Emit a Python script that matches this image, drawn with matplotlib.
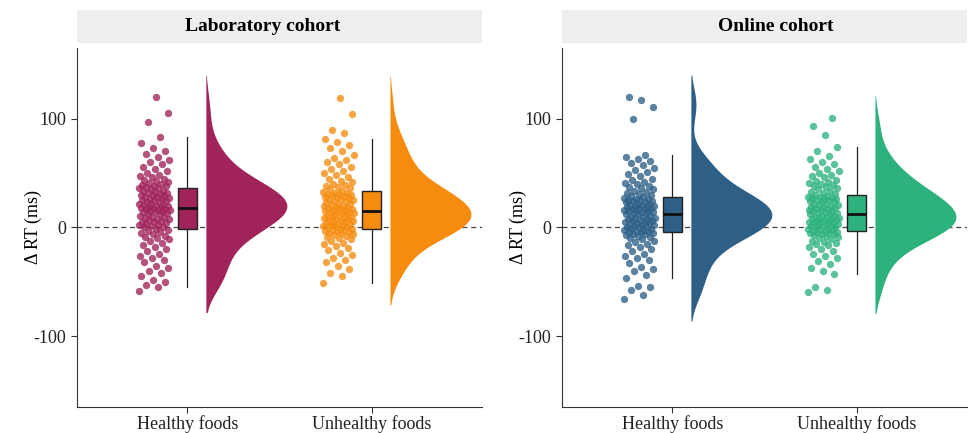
import matplotlib
matplotlib.use("Agg")
import matplotlib.pyplot as plt
import numpy as np

# delta RT values (ms)
lab_healthy = [-58, -55, -53, -50, -48, -45, -42, -40, -37, -35, -32, -30, -28, -26, -24,
               -22, -20, -18, -16, -14, -12, -11, -10, -9, -8, -6, -5, -4, -3, -2,
               -1, 0, 0, 1, 2, 2, 3, 4, 5, 5, 6, 7, 8, 8, 9, 10, 10, 11, 12, 12,
               13, 14, 14, 15, 15, 16, 16, 17, 17, 18,
               18, 19, 19, 20, 20, 21, 21, 22, 22, 23, 23, 24, 25, 25, 26, 26, 27, 28, 28, 29,
               30, 30, 31, 32, 32, 33, 34, 34, 35, 36,
               36, 37, 38, 38, 39, 40, 41, 42, 43, 44, 45, 46, 47, 48, 50, 52, 54, 56, 58, 60,
               62, 65, 68, 70, 73, 78, 83, 97, 105, 120]
lab_unhealthy = [-51, -45, -42, -38, -35, -32, -30, -28, -25, -23, -21, -19, -17, -15, -14,
                 -12, -11, -10, -9, -8, -7, -6, -5, -5, -4, -3, -3, -2, -2, -1,
                 -1, 0, 0, 1, 1, 2, 2, 3, 3, 4, 5, 5, 6, 6, 7, 8, 8, 9, 9, 10,
                 10, 11, 11, 12, 12, 13, 13, 14, 14, 15,
                 15, 16, 16, 17, 17, 18, 18, 19, 20, 20, 21, 22, 22, 23, 24, 24, 25, 26, 26, 27,
                 28, 28, 29, 30, 30, 31, 31, 32, 32, 33,
                 34, 35, 36, 37, 38, 39, 40, 42, 43, 45, 46, 48, 50, 52, 54, 56, 58, 60, 62, 64,
                 67, 70, 73, 76, 79, 81, 87, 90, 104, 119]
online_healthy = [-66, -62, -57, -55, -54, -46, -44, -40, -38, -36, -33, -30, -28, -26, -24,
                  -22, -20, -18, -16, -15, -13, -12, -11, -10, -9, -8, -7, -6, -6, -5,
                  -4, -4, -3, -3, -2, -2, -1, -1, 0, 0, 1, 1, 2, 2, 3, 4, 4, 5, 5, 6,
                  6, 7, 8, 8, 9, 9, 10, 10, 11, 12,
                  12, 13, 13, 14, 14, 15, 15, 16, 16, 17, 17, 18, 18, 19, 19, 20, 20, 21, 21, 22,
                  22, 23, 23, 24, 24, 25, 25, 26, 26, 27,
                  28, 29, 30, 31, 32, 33, 34, 35, 36, 37, 38, 40, 41, 42, 44, 45, 47, 49, 51, 53,
                  55, 57, 59, 61, 63, 65, 67, 100, 111, 117, 120]
online_unhealthy = [-59, -57, -55, -43, -40, -37, -34, -31, -28, -26, -24, -22, -20, -18, -16,
                    -15, -14, -13, -12, -11, -10, -9, -8, -7, -6, -6, -5, -5, -4, -4,
                    -3, -3, -2, -2, -1, -1, 0, 0, 1, 1, 2, 2, 3, 3, 4, 4, 5, 5, 6, 6,
                    7, 7, 8, 8, 9, 9, 10, 10, 11, 11,
                    12, 12, 13, 13, 14, 15, 15, 16, 16, 17, 18, 18, 19, 19, 20, 21, 21, 22, 22, 23,
                    24, 24, 25, 25, 26, 26, 27, 27, 28, 28,
                    29, 30, 31, 32, 33, 34, 35, 36, 37, 38, 39, 40, 41, 42, 43, 44, 46, 47, 48, 50,
                    52, 54, 56, 58, 60, 63, 66, 70, 74, 85, 93, 101]

categories = ["Healthy foods", "Unhealthy foods"]
panels = ["Laboratory cohort", "Online cohort"]
panel_data = [[lab_healthy, lab_unhealthy], [online_healthy, online_unhealthy]]
panel_colors = [["#A0235A", "#F58C0F"], ["#2D5F87", "#2DB27D"]]

plt.rcParams["font.family"] = ["Liberation Serif", "DejaVu Serif"]


def kde(values, grid, bw):
    v = np.asarray(values, dtype=float)[:, None]
    return np.exp(-0.5 * ((grid[None, :] - v) / bw) ** 2).sum(axis=0)


fig = plt.figure(figsize=(9.76, 4.33), dpi=100)
lefts = [77 / 976, 562 / 976]
title_x = [263 / 976, 776 / 976]
ax_w = 405 / 976
ax_b = 1 - 407 / 433
ax_h = 359 / 433

for p, title in enumerate(panels):
    ax = fig.add_axes([lefts[p], ax_b, ax_w, ax_h])
    sax = fig.add_axes([lefts[p], 1 - 43 / 433, ax_w, 33 / 433])
    sax.set_facecolor("#EDEEF0")
    sax.set_xticks([])
    sax.set_yticks([])
    for s in sax.spines.values():
        s.set_visible(False)
    fig.text(title_x[p], 1 - 26.5 / 433, title, ha="center", va="center", fontsize=14,
             fontweight="bold")

    ax.axhline(0, color="#444444", lw=0.9, ls=(0, (4, 3)), zorder=0)

    for i, vals in enumerate(panel_data[p]):
        pos = i + 1
        col = panel_colors[p][i]
        vals = np.asarray(vals, dtype=float)

        # half density (cloud)
        lo, hi = vals.min() - 20, vals.max() + 20
        grid = np.linspace(lo, hi, 400)
        dens = kde(vals, grid, 13)
        dens = dens / dens.max() * 0.44
        ax.fill_betweenx(grid, pos + 0.1, pos + 0.1 + dens, color=col, lw=0, zorder=2)

        # jittered points (rain)
        n = len(vals)
        offs = ((np.arange(n) * 0.6180339887) % 1.0 - 0.5) * 0.17
        ax.scatter(pos - 0.18 + offs, vals, s=28, color=col, alpha=0.78, lw=0, zorder=3)

        # boxplot
        ax.boxplot([vals], positions=[pos], widths=0.1, patch_artist=True, showfliers=False,
                   boxprops=dict(facecolor=col, edgecolor="#222222", lw=1),
                   medianprops=dict(color="#111111", lw=2),
                   whiskerprops=dict(color="#222222", lw=0.9),
                   capprops=dict(visible=False), zorder=4)

    ax.set_xlim(0.4, 2.6)
    ax.set_ylim(-165, 165)
    ax.set_xticks([1, 2])
    ax.set_xticklabels(categories, fontsize=13)
    ax.set_yticks([-100, 0, 100])
    ax.set_yticklabels(["-100", "0", "100"], fontsize=13)
    ax.set_ylabel("Δ RT (ms)", fontsize=13)
    ax.yaxis.set_label_coords(-0.086, 0.5)
    ax.spines["top"].set_visible(False)
    ax.spines["right"].set_visible(False)
    ax.spines["left"].set_color("#333333")
    ax.spines["bottom"].set_color("#333333")
    ax.tick_params(colors="#333333", length=4, labelcolor="#222222")
    ax.tick_params(axis="x", pad=2)

fig.savefig("out.png", dpi=100)
